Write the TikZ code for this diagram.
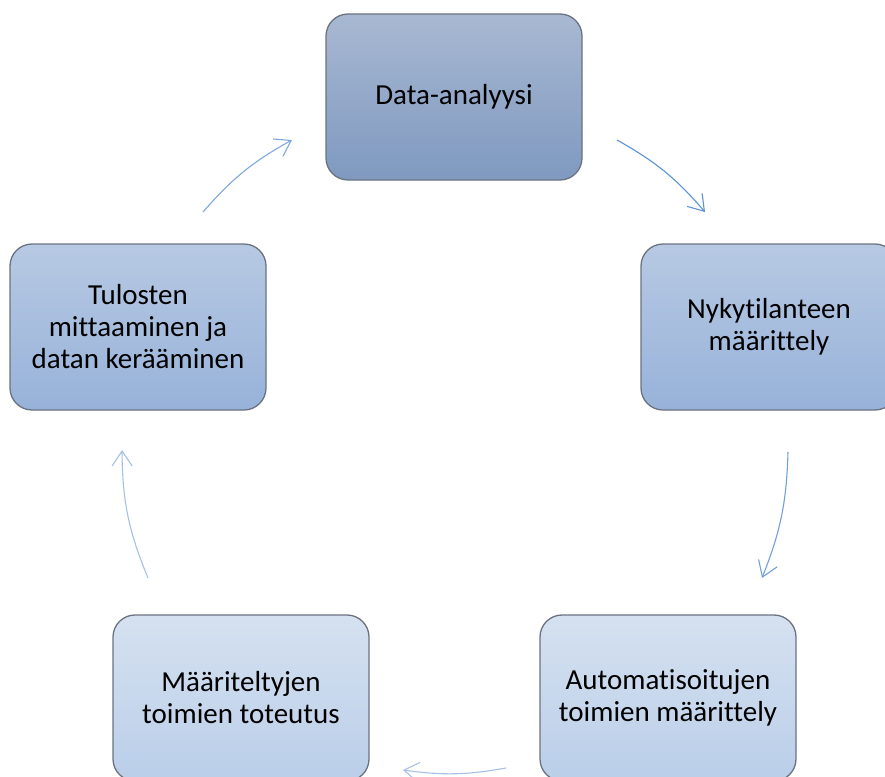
\documentclass[tikz,border=0pt]{standalone}
\usepackage{fontspec}
\setmainfont{Carlito}[Ligatures=NoCommon]
\usetikzlibrary{arrows.meta}
\definecolor{boxline}{HTML}{6B7380}
\definecolor{darktop}{HTML}{A8B8D2}
\definecolor{darkbot}{HTML}{7F99C0}
\definecolor{midtop}{HTML}{B7C9E3}
\definecolor{midbot}{HTML}{97B2D9}
\definecolor{lighttop}{HTML}{D5E1F0}
\definecolor{lightbot}{HTML}{BACEE9}
\tikzstyle{phase} = [rectangle, rounded corners=22pt, minimum width=256pt, minimum height=166pt, inner sep=0pt, align=center, draw=boxline, line width=1.3pt, font=\fontsize{29}{32}\selectfont]
\tikzstyle{dark} = [phase, top color=darktop, bottom color=darkbot]
\tikzstyle{mid} = [phase, top color=midtop, bottom color=midbot]
\tikzstyle{light} = [phase, top color=lighttop, bottom color=lightbot]
\tikzstyle{cyc} = [line width=1.1pt, -{Straight Barb[length=15pt,width=20pt,line width=1.1pt]}]

\begin{document}
\begin{tikzpicture}[x=1pt,y=-1pt]
\useasboundingbox (0,0) rectangle (885,776);

\node (data) [dark] at (454,97) {Data-analyysi};
\node (nyky) [mid] at (769,327) {Nykytilanteen\\määrittely};
\node (auto) [light] at (668,698) {Automatisoitujen\\toimien määrittely};
\node (toteutus) [light] at (241,698) {Määriteltyjen\\toimien toteutus};
\node (tulos) [mid] at (138,327) {Tulosten\\mittaaminen ja\\datan kerääminen};

% arrow ends
\coordinate (a1) at (617,140); \coordinate (b1) at (705,212);
\coordinate (a2) at (788,452); \coordinate (b2) at (762,578);
\coordinate (a3) at (506,768); \coordinate (b3) at (403,770);
\coordinate (a4) at (148,578); \coordinate (b4) at (122,450);
\coordinate (a5) at (203,212); \coordinate (b5) at (292,140);

\draw [cyc, color={rgb,255:red,91;green,147;blue,211}] (a1) to[bend left=10] (b1);
\draw [cyc, color={rgb,255:red,112;green,160;blue,217}] (a2) to[bend left=10] (b2);
\draw [cyc, color={rgb,255:red,166;green,194;blue,232}] (a3) to[bend left=9] (b3);
\draw [cyc, color={rgb,255:red,163;green,192;blue,230}] (a4) to[bend left=11] (b4);
\draw [cyc, color={rgb,255:red,127;green,168;blue,220}] (a5) to[bend left=10] (b5);

\end{tikzpicture}
\end{document}
